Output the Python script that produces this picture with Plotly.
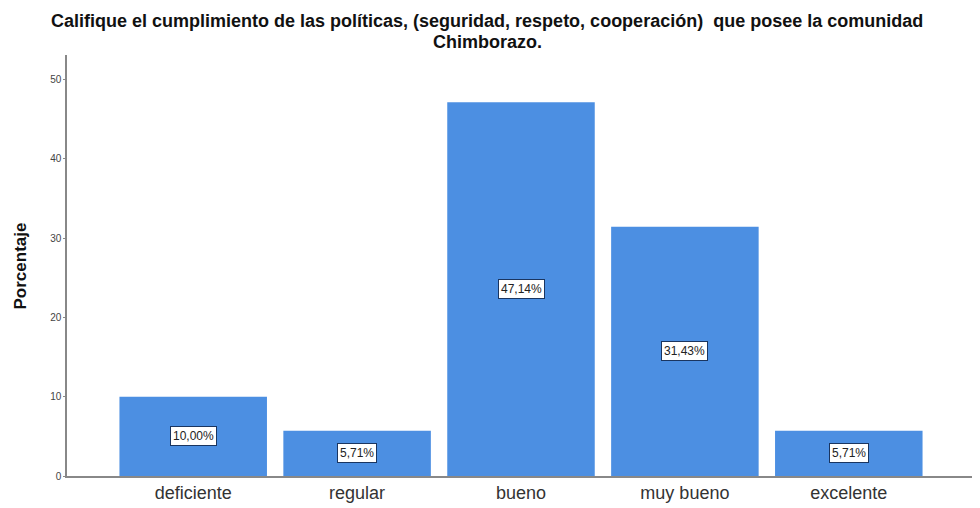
import plotly.graph_objects as go

categories = ["deficiente", "regular", "bueno", "muy bueno", "excelente"]
values = [10.00, 5.71, 47.14, 31.43, 5.71]
labels = ["10,00%", "5,71%", "47,14%", "31,43%", "5,71%"]
y_ticks = [0, 10, 20, 30, 40, 50]

title_line1 = "Califique el cumplimiento de las políticas, (seguridad, respeto, cooperación)  que posee la comunidad"
title_line2 = "Chimborazo."
y_title = "Porcentaje"

FONT = "Liberation Sans, Arial, sans-serif"

fig = go.Figure()
fig.add_trace(go.Bar(
    x=list(range(len(categories))),
    y=values,
    width=0.9,
    marker=dict(color="#4C8FE2", line=dict(width=0)),
    hoverinfo="skip",
))

for i, (v, t) in enumerate(zip(values, labels)):
    fig.add_annotation(
        x=i, y=v / 2, text=t, showarrow=False,
        font=dict(family=FONT, size=12, color="#222"),
        bgcolor="white", bordercolor="#1a3560", borderwidth=1, borderpad=2,
    )

# title lines
fig.add_annotation(text="<b>" + title_line1 + "</b>", xref="paper", yref="paper",
                   x=0.4626, y=1.0798, xanchor="center", yanchor="middle", showarrow=False,
                   font=dict(family=FONT, size=18, color="#111"))
fig.add_annotation(text="<b>" + title_line2 + "</b>", xref="paper", yref="paper",
                   x=0.4626, y=1.0305, xanchor="center", yanchor="middle", showarrow=False,
                   font=dict(family=FONT, size=18, color="#111"))
# y axis title
fig.add_annotation(text="<b>" + y_title + "</b>", xref="paper", yref="paper",
                   x=-0.0507, y=0.5, xanchor="center", yanchor="middle", showarrow=False,
                   textangle=-90, font=dict(family=FONT, size=17, color="#111"))

fig.update_layout(
    width=972, height=500,
    margin=dict(l=59, r=5, t=47, b=27),
    paper_bgcolor="white", plot_bgcolor="white",
    showlegend=False,
    font=dict(family=FONT),
)

fig.update_xaxes(
    tickmode="array", tickvals=list(range(len(categories))), ticktext=categories,
    range=[-0.77, 4.77],
    showline=True, linecolor="#888", linewidth=1.5,
    showgrid=False, zeroline=False, ticks="",
    tickfont=dict(family=FONT, size=18, color="#333"),
)
fig.update_yaxes(
    tickmode="array", tickvals=y_ticks, ticktext=[str(t) for t in y_ticks],
    range=[0, 53.1],
    showline=True, linecolor="#888", linewidth=1.5,
    showgrid=False, zeroline=False, ticks="outside", ticklen=2, tickcolor="#888",
    tickfont=dict(family=FONT, size=10, color="#444"),
)

fig.write_html("out.html")
